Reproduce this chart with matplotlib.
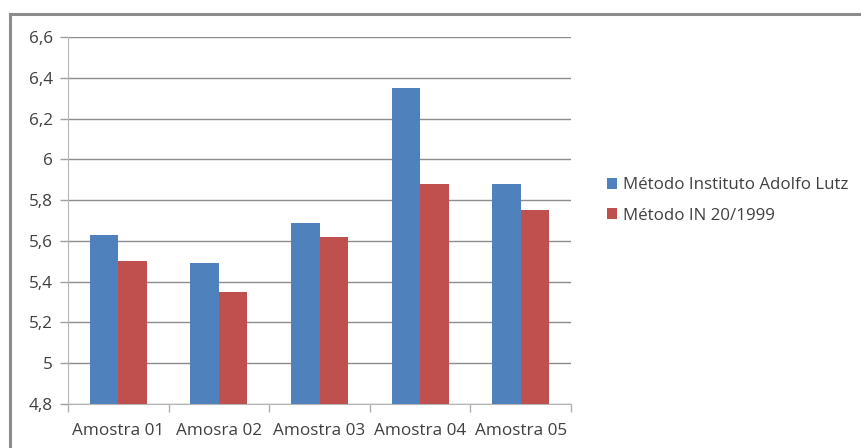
import matplotlib
matplotlib.use("Agg")
import matplotlib.pyplot as plt
from matplotlib.lines import Line2D
import numpy as np

categories = ["Amostra 01", "Amosra 02", "Amostra 03", "Amostra 04", "Amostra 05"]
series_names = ["Método Instituto Adolfo Lutz", "Método IN 20/1999"]
ial_values = [5.63, 5.49, 5.69, 6.35, 5.88]
in_values = [5.50, 5.35, 5.62, 5.88, 5.75]
yticks = [4.8, 5.0, 5.2, 5.4, 5.6, 5.8, 6.0, 6.2, 6.4, 6.6]
ytick_labels = ["4,8", "5", "5,2", "5,4", "5,6", "5,8", "6", "6,2", "6,4", "6,6"]

colors = ["#4F81BD", "#C0504D"]
text_color = "#404040"

plt.rcParams['font.family'] = ['Open Sans', 'DejaVu Sans']

W, H = 862, 448
fig = plt.figure(figsize=(W / 100, H / 100), dpi=100)
fig.patch.set_facecolor("white")

# outer frame
fig.add_artist(Line2D([10 / W, 1.0], [1 - 14 / H, 1 - 14 / H], transform=fig.transFigure,
                      color="#8c8c8c", lw=2.2))
fig.add_artist(Line2D([10 / W, 10 / W], [0, 1 - 14 / H], transform=fig.transFigure,
                      color="#8c8c8c", lw=2.2))

left, right, top, bottom = 68, 571, 37, 404
ax = fig.add_axes([left / W, 1 - bottom / H, (right - left) / W, (bottom - top) / H])

x = np.arange(len(categories))
bw = 0.283
ax.bar(x - bw / 2, ial_values, width=bw, color=colors[0], label=series_names[0], zorder=3)
ax.bar(x + bw / 2, in_values, width=bw, color=colors[1], label=series_names[1], zorder=3)

ax.set_ylim(4.8, 6.6)
ax.set_xlim(-0.5, len(categories) - 0.5)
ax.set_yticks(yticks)
ax.set_yticklabels(ytick_labels)
ax.set_xticks(x)
ax.set_xticklabels(categories)
ax.tick_params(axis="x", length=0, pad=14, labelsize=12.3, colors=text_color)
ax.tick_params(axis="y", length=6, width=1, color="#a0a0a0", pad=5, labelsize=12.3, labelcolor=text_color)
ax.set_xticks(np.arange(len(categories) + 1) - 0.5, minor=True)
ax.tick_params(axis="x", which="minor", length=6, color="#b0b0b0", width=1)

ax.yaxis.grid(True, color="#8c8c8c", lw=1.0, zorder=0)
for s in ["top", "right"]:
    ax.spines[s].set_visible(False)
ax.spines["left"].set_color("#b5b5b5")
ax.spines["bottom"].set_color("#b5b5b5")

leg = fig.legend(loc="upper left", bbox_to_anchor=(592 / W, 1 - 162 / H), frameon=False,
                 fontsize=12.2, handlelength=0.6, handleheight=0.6, handletextpad=0.35,
                 labelspacing=0.85, labelcolor=text_color)

fig.savefig("out.png", dpi=100, facecolor="white")
